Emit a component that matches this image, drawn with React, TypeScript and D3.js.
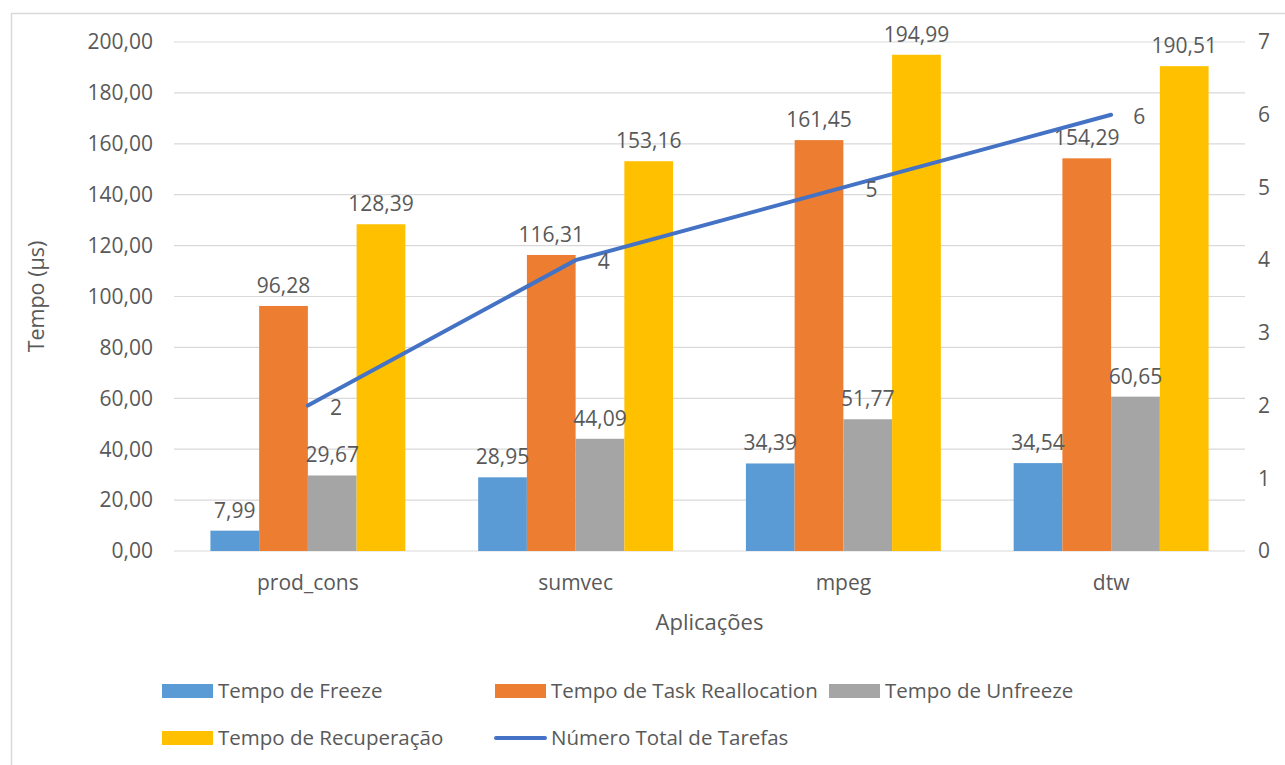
import React from "react";
import * as d3 from "d3";

const categories = ["prod_cons", "sumvec", "mpeg", "dtw"];
const seriesNames = [
  "Tempo de Freeze",
  "Tempo de Task Reallocation",
  "Tempo de Unfreeze",
  "Tempo de Recuperação",
];
const freeze = [7.99, 28.95, 34.39, 34.54];
const reallocation = [96.28, 116.31, 161.45, 154.29];
const unfreeze = [29.67, 44.09, 51.77, 60.65];
const recuperacao = [128.39, 153.16, 194.99, 190.51];
const lineName = "Número Total de Tarefas";
const tarefas = [2, 4, 5, 6];
const leftTicks = [0, 20, 40, 60, 80, 100, 120, 140, 160, 180, 200];
const rightTicks = [0, 1, 2, 3, 4, 5, 6, 7];

const colors = ["#5B9BD5", "#ED7D31", "#A5A5A5", "#FFC000"];
const lineColor = "#4472C4";
const textColor = "#595959";
const font = "'Open Sans', sans-serif";
const fs = 21;

const fmt = (v: number) => v.toFixed(2).replace(".", ",");

export default function App() {
  const W = 1285;
  const H = 765;
  const left = 174;
  const right = 1245;
  const top = 42;
  const bottom = 551;

  const series = [freeze, reallocation, unfreeze, recuperacao];

  const x0 = d3.scaleBand().domain(categories).range([left, right]).paddingInner(0).paddingOuter(0);
  const bw = x0.bandwidth();
  const groupPad = bw * 0.136;
  const x1 = d3
    .scaleBand<number>()
    .domain([0, 1, 2, 3])
    .range([groupPad, bw - groupPad])
    .padding(0);
  const y = d3.scaleLinear().domain([0, 200]).range([bottom, top]);
  const y2 = d3.scaleLinear().domain([0, 7]).range([bottom, top]);

  const line = d3
    .line<number>()
    .x((_, i) => (x0(categories[i]) as number) + bw / 2)
    .y((d) => y2(d));

  return (
    <svg
      width={W}
      height={H}
      style={{ position: "absolute", left: 0, top: 0, background: "#fff" }}
      fontFamily={font}
    >
      <rect x={0} y={0} width={W} height={H} fill="#fff" />
      <rect x={11.5} y={13.5} width={1300} height={800} fill="none" stroke="#D9D9D9" strokeWidth={1.5} />

      {leftTicks.map((t) => (
        <g key={"g" + t}>
          <line x1={left} x2={right} y1={y(t)} y2={y(t)} stroke="#D9D9D9" strokeWidth={1.2} />
          <text x={153} y={y(t)} dy="0.35em" textAnchor="end" fontSize={fs} fill={textColor}>
            {fmt(t)}
          </text>
        </g>
      ))}
      {rightTicks.map((t) => (
        <text key={"r" + t} x={1258} y={y2(t)} dy="0.35em" textAnchor="start" fontSize={fs} fill={textColor}>
          {t}
        </text>
      ))}

      {categories.map((c, ci) => (
        <g key={c} transform={`translate(${x0(c)},0)`}>
          {series.map((s, si) => (
            <rect
              key={si}
              x={x1(si) as number}
              y={y(s[ci])}
              width={x1.bandwidth()}
              height={bottom - y(s[ci])}
              fill={colors[si]}
            />
          ))}
          {series.map((s, si) => (
            <text
              key={"t" + si}
              x={(x1(si) as number) + x1.bandwidth() / 2}
              y={y(s[ci]) - 13}
              textAnchor="middle"
              fontSize={fs}
              fill={textColor}
            >
              {fmt(s[ci])}
            </text>
          ))}
          <text x={bw / 2} y={583} dy="0.35em" textAnchor="middle" fontSize={fs} fill={textColor}>
            {c}
          </text>
        </g>
      ))}

      <path d={line(tarefas) as string} fill="none" stroke={lineColor} strokeWidth={4} strokeLinecap="round" />
      {tarefas.map((t, i) => (
        <text
          key={"l" + i}
          x={(x0(categories[i]) as number) + bw / 2 + 22}
          y={y2(t) + 2}
          dy="0.35em"
          textAnchor="start"
          fontSize={fs}
          fill={textColor}
        >
          {t}
        </text>
      ))}

      <text
        transform={`translate(36,${(top + bottom) / 2}) rotate(-90)`}
        textAnchor="middle"
        dy="0.35em"
        fontSize={21.5}
        fill={textColor}
      >
        Tempo (µs)
      </text>
      <text x={(left + right) / 2} y={622} dy="0.35em" textAnchor="middle" fontSize={22} fill={textColor}>
        Aplicações
      </text>

      {/* Legend */}
      {[
        { name: seriesNames[0], color: colors[0], x: 162, y: 691, type: "bar" },
        { name: seriesNames[1], color: colors[1], x: 495, y: 691, type: "bar" },
        { name: seriesNames[2], color: colors[2], x: 829, y: 691, type: "bar" },
        { name: seriesNames[3], color: colors[3], x: 162, y: 738, type: "bar" },
        { name: lineName, color: lineColor, x: 495, y: 738, type: "line" },
      ].map((d) => (
        <g key={d.name}>
          {d.type === "bar" ? (
            <rect x={d.x} y={d.y - 7} width={51} height={14} fill={d.color} />
          ) : (
            <line x1={d.x + 1} x2={d.x + 50} y1={d.y} y2={d.y} stroke={d.color} strokeWidth={4} strokeLinecap="round" />
          )}
          <text x={d.x + 56} y={d.y} dy="0.35em" fontSize={20.5} fill={textColor}>
            {d.name}
          </text>
        </g>
      ))}
    </svg>
  );
}
